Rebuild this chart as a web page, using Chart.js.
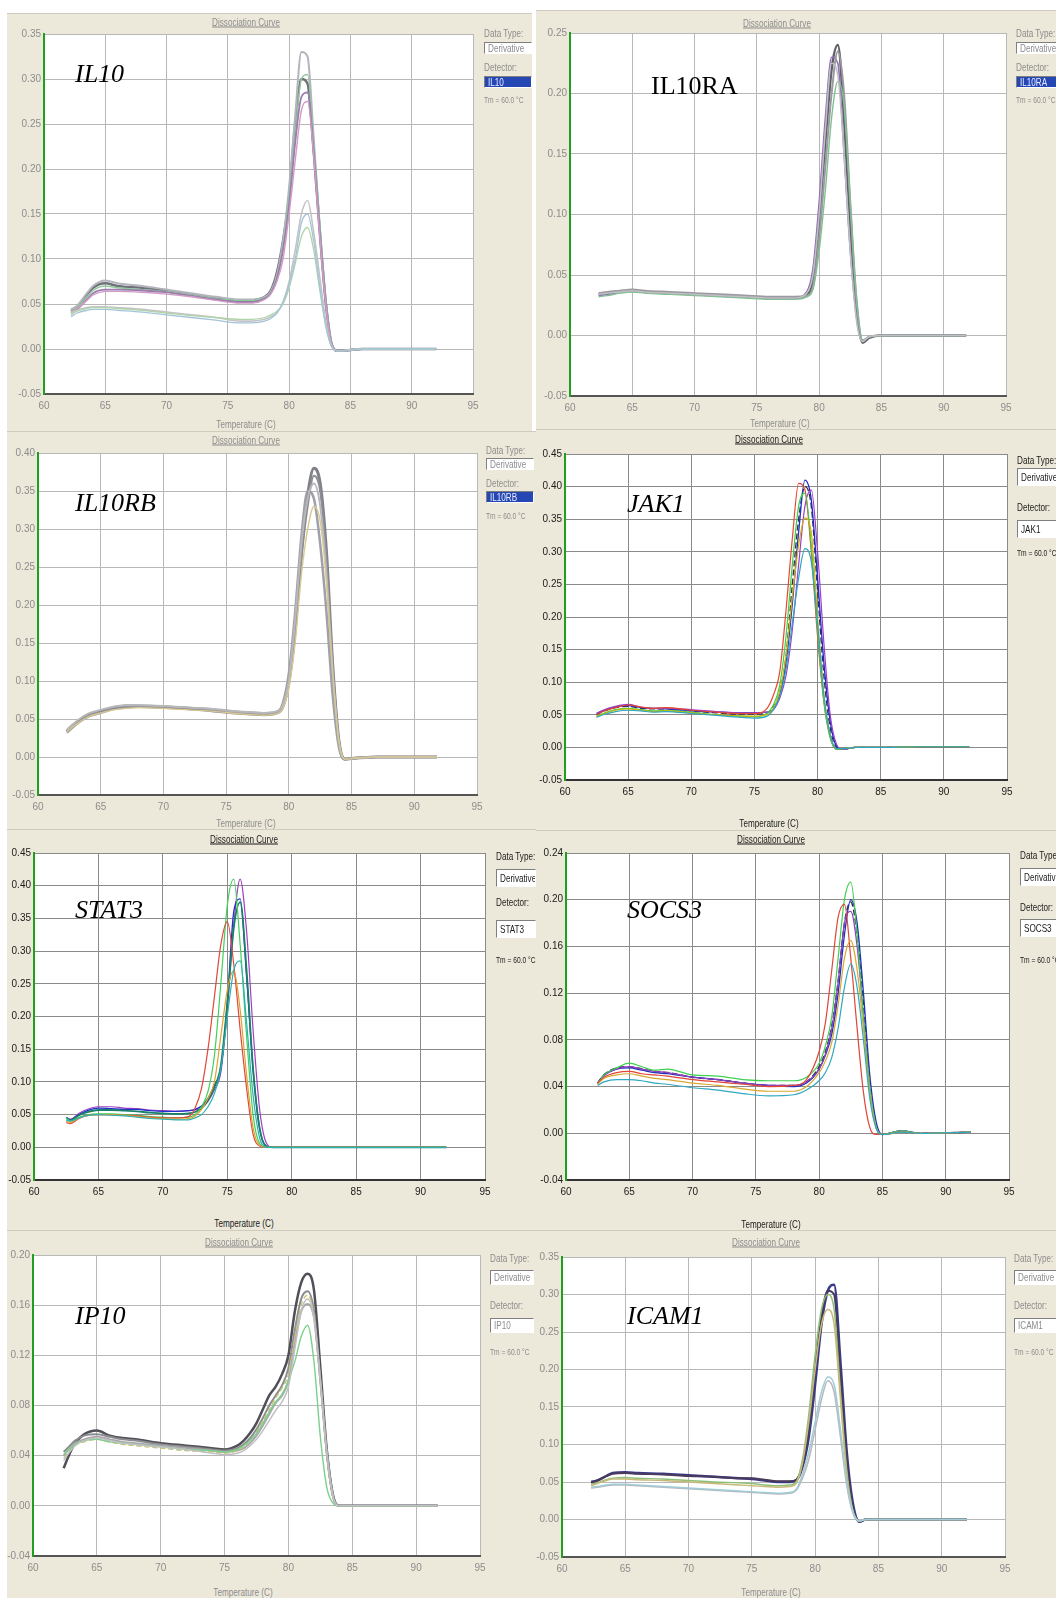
<!DOCTYPE html>
<html>
<head>
<meta charset="utf-8">
<title>Dissociation curves</title>
<script src="https://cdn.jsdelivr.net/npm/chart.js@4.4.1/dist/chart.umd.min.js"></script>
<style>
  html, body { margin: 0; padding: 0; background: #fff; }
  #page { position: relative; width: 1056px; height: 1598px; overflow: hidden; background: #fff;
          font-family: 'Liberation Sans', Arial, sans-serif; }
  .panel { position: absolute; background: #ece9da; border-top: 1px solid #cfccbd; box-sizing: border-box; }
  .t { position: absolute; white-space: nowrap; font-size: 11px; line-height: 13px; }
  .gene { position: absolute; white-space: nowrap; font-family: 'Liberation Serif', 'Times New Roman', serif;
          font-size: 26px; line-height: 26px; color: #000; }
  .box { position: absolute; box-sizing: border-box; background: #fff; border: 1px solid;
         border-color: #7f7f7f #fff #fff #7f7f7f; font-size: 11px; padding-left: 3px;
         overflow: hidden; white-space: nowrap; }
  .box span { display: inline-block; transform: scaleX(0.74); transform-origin: left center; }
  canvas { position: absolute; }
</style>
</head>
<body>
<div id="page"></div>
<script>
// temperature axis, shared by all panels
const tempTicks = [60, 65, 70, 75, 80, 85, 90, 95];

// ---------- IL10 ----------
const il10YTicks = [-0.05, 0, 0.05, 0.10, 0.15, 0.20, 0.25, 0.30, 0.35];
const il10Temp = [62.2, 62.7, 63.5, 64, 65, 66, 68, 70, 72, 74, 76, 77, 78, 78.5, 79, 79.5, 80, 80.5, 81, 81.5, 82, 82.5, 83, 83.5, 84, 86, 88, 92];
const il10Dark = [0.042, 0.046, 0.060, 0.068, 0.073, 0.070, 0.068, 0.065, 0.060, 0.056, 0.053, 0.054, 0.058, 0.065, 0.085, 0.120, 0.170, 0.250, 0.300, 0.295, 0.220, 0.130, 0.050, 0.004, -0.002, 0.000, 0.000, 0.000];
const il10Light = [0.044, 0.048, 0.062, 0.070, 0.076, 0.073, 0.070, 0.066, 0.062, 0.058, 0.055, 0.055, 0.058, 0.064, 0.082, 0.120, 0.180, 0.260, 0.330, 0.325, 0.235, 0.135, 0.052, 0.004, -0.002, 0.000, 0.000, 0.000];
const il10Green = [0.043, 0.046, 0.058, 0.065, 0.070, 0.068, 0.066, 0.064, 0.060, 0.056, 0.054, 0.054, 0.057, 0.063, 0.080, 0.115, 0.170, 0.240, 0.300, 0.305, 0.230, 0.140, 0.055, 0.005, -0.002, 0.000, 0.000, 0.000];
const il10Purple = [0.040, 0.044, 0.055, 0.062, 0.066, 0.066, 0.065, 0.063, 0.059, 0.055, 0.052, 0.052, 0.056, 0.062, 0.078, 0.110, 0.160, 0.230, 0.280, 0.285, 0.220, 0.130, 0.050, 0.004, -0.002, 0.000, 0.000, 0.000];
const il10Pink = [0.041, 0.045, 0.054, 0.060, 0.064, 0.064, 0.063, 0.061, 0.058, 0.054, 0.051, 0.051, 0.055, 0.061, 0.075, 0.100, 0.150, 0.210, 0.265, 0.275, 0.215, 0.125, 0.048, 0.004, -0.002, 0.000, 0.000, 0.000];
const il10LowA = [0.040, 0.043, 0.046, 0.047, 0.047, 0.046, 0.044, 0.041, 0.038, 0.035, 0.031, 0.031, 0.033, 0.036, 0.040, 0.052, 0.075, 0.110, 0.150, 0.165, 0.130, 0.080, 0.030, 0.002, -0.002, 0.000, 0.000, 0.000];
const il10LowB = [0.038, 0.042, 0.045, 0.046, 0.046, 0.045, 0.043, 0.040, 0.037, 0.035, 0.033, 0.033, 0.035, 0.038, 0.042, 0.050, 0.068, 0.095, 0.125, 0.135, 0.110, 0.065, 0.025, 0.002, -0.002, 0.000, 0.000, 0.000];
const il10LowC = [0.036, 0.040, 0.043, 0.044, 0.044, 0.043, 0.041, 0.038, 0.035, 0.032, 0.029, 0.029, 0.031, 0.034, 0.040, 0.052, 0.072, 0.100, 0.140, 0.150, 0.120, 0.070, 0.025, 0.002, -0.002, 0.000, 0.000, 0.000];

// ---------- IL10RA ----------
const il10raYTicks = [-0.05, 0, 0.05, 0.10, 0.15, 0.20, 0.25];
const il10raTemp = [62.3, 63, 64, 65, 66, 68, 70, 72, 74, 76, 78, 79, 79.5, 80, 80.5, 81, 81.5, 82, 82.5, 83, 83.5, 84, 85, 88, 91.8];
const il10raDark = [0.034, 0.035, 0.036, 0.037, 0.036, 0.035, 0.034, 0.033, 0.032, 0.031, 0.031, 0.034, 0.045, 0.095, 0.160, 0.220, 0.240, 0.180, 0.090, 0.020, -0.006, -0.002, 0.000, 0.000, 0.000];
const il10raPurple = [0.033, 0.034, 0.036, 0.037, 0.036, 0.035, 0.034, 0.033, 0.032, 0.031, 0.031, 0.036, 0.055, 0.110, 0.180, 0.230, 0.225, 0.150, 0.070, 0.015, -0.005, -0.001, 0.000, 0.000, 0.000];
const il10raGray = [0.035, 0.036, 0.037, 0.038, 0.037, 0.036, 0.035, 0.034, 0.033, 0.032, 0.032, 0.033, 0.040, 0.080, 0.140, 0.200, 0.235, 0.200, 0.110, 0.030, -0.004, -0.001, 0.000, 0.000, 0.000];
const il10raGreen = [0.032, 0.033, 0.035, 0.036, 0.035, 0.034, 0.033, 0.032, 0.031, 0.030, 0.030, 0.032, 0.038, 0.070, 0.120, 0.180, 0.210, 0.190, 0.110, 0.030, -0.004, -0.001, 0.000, 0.000, 0.000];
const il10raLight = [0.034, 0.035, 0.036, 0.037, 0.036, 0.035, 0.034, 0.033, 0.032, 0.031, 0.031, 0.035, 0.050, 0.100, 0.170, 0.225, 0.215, 0.150, 0.070, 0.012, -0.005, -0.001, 0.000, 0.000, 0.000];

// ---------- IL10RB ----------
const il10rbYTicks = [-0.05, 0, 0.05, 0.10, 0.15, 0.20, 0.25, 0.30, 0.35, 0.40];
const il10rbTemp = [62.3, 62.7, 63.3, 64, 65, 66, 67, 68, 70, 72, 74, 76, 78, 79, 79.5, 80, 80.5, 81, 81.5, 82, 82.5, 83, 83.5, 84, 84.5, 85, 87, 89, 91.8];
const il10rbDark = [0.034, 0.040, 0.048, 0.055, 0.060, 0.065, 0.067, 0.067, 0.066, 0.064, 0.062, 0.059, 0.057, 0.059, 0.066, 0.100, 0.170, 0.270, 0.345, 0.380, 0.360, 0.270, 0.120, 0.020, -0.003, -0.002, 0.000, 0.000, 0.000];
const il10rbGray = [0.032, 0.038, 0.046, 0.053, 0.058, 0.063, 0.065, 0.066, 0.065, 0.063, 0.061, 0.058, 0.056, 0.058, 0.070, 0.110, 0.190, 0.290, 0.350, 0.340, 0.280, 0.190, 0.080, 0.012, -0.003, -0.002, 0.000, 0.000, 0.000];
const il10rbGray2 = [0.033, 0.039, 0.047, 0.054, 0.059, 0.064, 0.066, 0.066, 0.065, 0.063, 0.060, 0.057, 0.055, 0.057, 0.064, 0.095, 0.160, 0.260, 0.330, 0.370, 0.350, 0.260, 0.120, 0.020, -0.003, -0.002, 0.000, 0.000, 0.000];
const il10rbYellow = [0.033, 0.039, 0.046, 0.053, 0.058, 0.062, 0.064, 0.065, 0.064, 0.062, 0.060, 0.057, 0.055, 0.057, 0.063, 0.090, 0.150, 0.240, 0.300, 0.330, 0.310, 0.230, 0.110, 0.020, -0.003, -0.002, 0.000, 0.000, 0.000];
const il10rbLight = [0.036, 0.042, 0.050, 0.057, 0.062, 0.066, 0.068, 0.068, 0.067, 0.065, 0.063, 0.060, 0.058, 0.060, 0.068, 0.100, 0.180, 0.280, 0.340, 0.360, 0.330, 0.240, 0.110, 0.018, -0.003, -0.002, 0.000, 0.000, 0.000];

// ---------- JAK1 ----------
const jak1YTicks = [-0.05, 0, 0.05, 0.10, 0.15, 0.20, 0.25, 0.30, 0.35, 0.40, 0.45];
const jak1Temp = [62.5, 63, 64, 65, 66, 67, 68, 70, 72, 74, 75, 76, 76.5, 77, 77.5, 78, 78.5, 79, 79.5, 80, 80.5, 81, 81.5, 82, 83, 85, 88, 92];
const jak1Red = [0.050, 0.055, 0.061, 0.065, 0.062, 0.060, 0.061, 0.057, 0.054, 0.052, 0.052, 0.060, 0.080, 0.115, 0.210, 0.320, 0.405, 0.395, 0.300, 0.170, 0.070, 0.015, -0.003, -0.002, 0.000, 0.000, 0.001, 0.001];
const jak1Green = [0.048, 0.052, 0.058, 0.060, 0.058, 0.056, 0.057, 0.054, 0.050, 0.048, 0.047, 0.052, 0.065, 0.095, 0.170, 0.280, 0.370, 0.390, 0.310, 0.180, 0.070, 0.015, -0.003, -0.002, 0.000, 0.000, 0.001, 0.001];
const jak1Yellow = [0.047, 0.051, 0.057, 0.059, 0.057, 0.055, 0.056, 0.053, 0.050, 0.048, 0.048, 0.050, 0.060, 0.085, 0.140, 0.230, 0.310, 0.352, 0.330, 0.200, 0.080, 0.020, -0.002, -0.002, 0.000, 0.000, 0.001, 0.001];
const jak1Teal = [0.046, 0.050, 0.055, 0.057, 0.056, 0.054, 0.055, 0.052, 0.049, 0.046, 0.045, 0.048, 0.058, 0.078, 0.120, 0.190, 0.260, 0.305, 0.285, 0.190, 0.080, 0.020, -0.002, -0.002, 0.000, 0.000, 0.001, 0.001];
const jak1Blue = [0.052, 0.056, 0.062, 0.064, 0.061, 0.060, 0.059, 0.056, 0.054, 0.053, 0.053, 0.054, 0.058, 0.080, 0.130, 0.220, 0.330, 0.410, 0.380, 0.260, 0.130, 0.040, 0.002, -0.003, 0.000, 0.000, 0.001, 0.001];
const jak1Purple = [0.052, 0.057, 0.063, 0.066, 0.062, 0.060, 0.060, 0.058, 0.055, 0.053, 0.053, 0.054, 0.058, 0.075, 0.110, 0.180, 0.280, 0.370, 0.395, 0.300, 0.160, 0.050, 0.005, -0.003, 0.000, 0.000, 0.001, 0.001];
const jak1Dark = [0.050, 0.055, 0.061, 0.063, 0.060, 0.059, 0.059, 0.056, 0.053, 0.051, 0.051, 0.053, 0.062, 0.085, 0.140, 0.250, 0.350, 0.400, 0.370, 0.240, 0.110, 0.030, 0.000, -0.003, 0.000, 0.000, 0.001, 0.001];

// ---------- STAT3 ----------
const stat3YTicks = [-0.05, 0, 0.05, 0.10, 0.15, 0.20, 0.25, 0.30, 0.35, 0.40, 0.45];
const stat3Temp = [62.5, 62.8, 63.5, 64, 65, 66, 67, 68, 69, 70, 71, 72, 72.5, 73, 73.5, 74, 74.5, 75, 75.5, 76, 76.5, 77, 77.5, 78, 78.5, 80, 85, 92];
const stat3Red = [0.038, 0.036, 0.044, 0.048, 0.050, 0.050, 0.049, 0.048, 0.046, 0.045, 0.045, 0.047, 0.060, 0.090, 0.150, 0.230, 0.310, 0.345, 0.280, 0.180, 0.090, 0.020, 0.002, 0.000, 0.000, 0.000, 0.000, 0.000];
const stat3Green = [0.045, 0.040, 0.046, 0.049, 0.051, 0.051, 0.050, 0.049, 0.047, 0.046, 0.045, 0.046, 0.050, 0.062, 0.085, 0.140, 0.250, 0.370, 0.410, 0.310, 0.170, 0.050, 0.006, 0.000, 0.000, 0.000, 0.000, 0.000];
const stat3Orange = [0.040, 0.038, 0.045, 0.048, 0.050, 0.050, 0.049, 0.047, 0.045, 0.044, 0.043, 0.044, 0.048, 0.058, 0.075, 0.100, 0.170, 0.240, 0.270, 0.210, 0.110, 0.030, 0.003, 0.000, 0.000, 0.000, 0.000, 0.000];
const stat3Teal = [0.042, 0.040, 0.045, 0.048, 0.050, 0.049, 0.048, 0.046, 0.044, 0.043, 0.042, 0.042, 0.045, 0.050, 0.062, 0.082, 0.120, 0.200, 0.270, 0.285, 0.190, 0.080, 0.015, 0.000, 0.000, 0.000, 0.000, 0.000];
const stat3Blue = [0.045, 0.042, 0.050, 0.055, 0.060, 0.059, 0.058, 0.058, 0.056, 0.055, 0.055, 0.056, 0.058, 0.063, 0.075, 0.095, 0.120, 0.220, 0.360, 0.380, 0.260, 0.120, 0.030, 0.002, 0.000, 0.000, 0.000, 0.000];
const stat3Purple = [0.046, 0.043, 0.052, 0.057, 0.062, 0.062, 0.060, 0.059, 0.057, 0.056, 0.055, 0.056, 0.057, 0.060, 0.070, 0.088, 0.115, 0.210, 0.340, 0.410, 0.330, 0.180, 0.060, 0.008, 0.000, 0.000, 0.000, 0.000];
const stat3Dark = [0.045, 0.041, 0.049, 0.053, 0.057, 0.057, 0.056, 0.055, 0.053, 0.052, 0.051, 0.052, 0.054, 0.060, 0.072, 0.092, 0.125, 0.220, 0.335, 0.375, 0.270, 0.120, 0.030, 0.002, 0.000, 0.000, 0.000, 0.000];

// ---------- SOCS3 ----------
const socs3YTicks = [-0.04, 0, 0.04, 0.08, 0.12, 0.16, 0.20, 0.24];
const socs3Temp = [62.5, 63, 64, 65, 66, 67, 68, 70, 72, 74, 76, 78, 79, 80, 80.5, 81, 81.5, 82, 82.5, 83, 83.5, 84, 84.5, 85, 86.5, 88, 92];
const socs3Red = [0.043, 0.048, 0.052, 0.053, 0.051, 0.050, 0.049, 0.046, 0.044, 0.042, 0.040, 0.041, 0.046, 0.070, 0.095, 0.140, 0.185, 0.196, 0.150, 0.090, 0.035, 0.005, -0.001, -0.001, 0.001, 0.000, 0.001];
const socs3Green = [0.042, 0.050, 0.056, 0.060, 0.057, 0.054, 0.055, 0.050, 0.049, 0.046, 0.045, 0.045, 0.048, 0.060, 0.075, 0.100, 0.150, 0.200, 0.215, 0.170, 0.100, 0.040, 0.006, -0.001, 0.002, 0.000, 0.001];
const socs3Blue = [0.043, 0.050, 0.055, 0.056, 0.054, 0.052, 0.051, 0.048, 0.046, 0.043, 0.041, 0.040, 0.043, 0.055, 0.067, 0.085, 0.120, 0.170, 0.200, 0.180, 0.120, 0.050, 0.010, -0.001, 0.002, 0.000, 0.001];
const socs3Purple = [0.042, 0.049, 0.055, 0.057, 0.055, 0.053, 0.052, 0.048, 0.046, 0.043, 0.041, 0.041, 0.044, 0.055, 0.068, 0.090, 0.130, 0.180, 0.190, 0.160, 0.100, 0.040, 0.005, -0.001, 0.002, 0.000, 0.001];
const socs3Orange = [0.042, 0.047, 0.050, 0.051, 0.049, 0.047, 0.046, 0.043, 0.041, 0.038, 0.036, 0.036, 0.040, 0.052, 0.062, 0.078, 0.110, 0.150, 0.165, 0.140, 0.090, 0.035, 0.005, -0.001, 0.001, 0.000, 0.001];
const socs3Teal = [0.041, 0.044, 0.046, 0.046, 0.045, 0.043, 0.042, 0.039, 0.037, 0.034, 0.032, 0.033, 0.037, 0.045, 0.052, 0.065, 0.090, 0.125, 0.145, 0.125, 0.080, 0.030, 0.004, -0.001, 0.001, 0.000, 0.001];
const socs3Dark = [0.043, 0.050, 0.056, 0.057, 0.055, 0.053, 0.052, 0.048, 0.046, 0.043, 0.041, 0.041, 0.044, 0.057, 0.070, 0.092, 0.130, 0.180, 0.198, 0.170, 0.110, 0.045, 0.007, -0.001, 0.002, 0.000, 0.001];

// ---------- IP10 ----------
const ip10YTicks = [-0.04, 0, 0.04, 0.08, 0.12, 0.16, 0.20];
const ip10Temp = [62.4, 62.8, 63.3, 64, 65, 66, 67, 68, 70, 72, 74, 75, 76, 76.5, 77, 77.5, 78, 78.5, 79, 79.5, 80, 80.5, 81, 81.5, 82, 82.5, 83, 83.5, 84, 86, 88, 91.7];
const ip10Dark = [0.030, 0.040, 0.050, 0.057, 0.060, 0.056, 0.054, 0.053, 0.050, 0.048, 0.046, 0.045, 0.048, 0.052, 0.058, 0.066, 0.077, 0.088, 0.095, 0.105, 0.120, 0.155, 0.178, 0.185, 0.172, 0.110, 0.045, 0.008, 0.000, 0.000, 0.000, 0.000];
const ip10Gray = [0.043, 0.047, 0.052, 0.056, 0.057, 0.055, 0.053, 0.052, 0.049, 0.047, 0.045, 0.044, 0.046, 0.049, 0.054, 0.061, 0.070, 0.080, 0.088, 0.096, 0.110, 0.140, 0.165, 0.171, 0.155, 0.100, 0.045, 0.008, 0.000, 0.000, 0.000, 0.000];
const ip10Gray2 = [0.040, 0.045, 0.050, 0.053, 0.055, 0.053, 0.051, 0.050, 0.048, 0.046, 0.044, 0.043, 0.044, 0.046, 0.050, 0.056, 0.064, 0.073, 0.082, 0.088, 0.100, 0.130, 0.155, 0.161, 0.150, 0.100, 0.042, 0.007, 0.000, 0.000, 0.000, 0.000];
const ip10Light = [0.036, 0.042, 0.048, 0.052, 0.054, 0.052, 0.050, 0.049, 0.047, 0.045, 0.042, 0.041, 0.042, 0.044, 0.048, 0.053, 0.060, 0.068, 0.076, 0.083, 0.095, 0.125, 0.155, 0.165, 0.150, 0.100, 0.042, 0.007, 0.000, 0.000, 0.000, 0.000];
const ip10Green = [0.041, 0.045, 0.049, 0.052, 0.053, 0.051, 0.050, 0.049, 0.047, 0.045, 0.044, 0.043, 0.045, 0.048, 0.052, 0.058, 0.066, 0.075, 0.083, 0.089, 0.100, 0.115, 0.135, 0.144, 0.115, 0.055, 0.015, 0.002, 0.000, 0.000, 0.000, 0.000];
const ip10Olive = [0.038, 0.043, 0.048, 0.051, 0.053, 0.051, 0.049, 0.048, 0.046, 0.044, 0.043, 0.042, 0.044, 0.047, 0.052, 0.059, 0.068, 0.077, 0.086, 0.094, 0.105, 0.135, 0.160, 0.168, 0.152, 0.100, 0.043, 0.007, 0.000, 0.000, 0.000, 0.000];

// ---------- ICAM1 ----------
const icam1YTicks = [-0.05, 0, 0.05, 0.10, 0.15, 0.20, 0.25, 0.30, 0.35];
const icam1Temp = [62.3, 62.8, 63.5, 64, 65, 66, 68, 70, 72, 74, 75, 76, 77, 78, 78.5, 79, 79.5, 80, 80.5, 81, 81.5, 82, 82.5, 83, 83.5, 84, 86, 88, 92];
const icam1Blue = [0.050, 0.052, 0.058, 0.062, 0.063, 0.062, 0.061, 0.059, 0.057, 0.055, 0.054, 0.052, 0.050, 0.050, 0.052, 0.070, 0.110, 0.180, 0.260, 0.305, 0.313, 0.210, 0.090, 0.020, -0.003, 0.000, 0.000, 0.000, 0.000];
const icam1Dark = [0.049, 0.052, 0.058, 0.061, 0.062, 0.061, 0.060, 0.058, 0.057, 0.055, 0.055, 0.053, 0.051, 0.051, 0.053, 0.072, 0.120, 0.200, 0.270, 0.305, 0.300, 0.190, 0.080, 0.015, -0.003, 0.000, 0.000, 0.000, 0.000];
const icam1Green = [0.047, 0.049, 0.053, 0.055, 0.056, 0.055, 0.054, 0.052, 0.050, 0.049, 0.048, 0.046, 0.045, 0.046, 0.050, 0.080, 0.140, 0.220, 0.280, 0.300, 0.280, 0.170, 0.065, 0.010, -0.002, 0.000, 0.000, 0.000, 0.000];
const icam1Olive = [0.045, 0.048, 0.052, 0.054, 0.054, 0.053, 0.052, 0.050, 0.048, 0.046, 0.045, 0.044, 0.043, 0.044, 0.048, 0.075, 0.130, 0.200, 0.260, 0.280, 0.260, 0.160, 0.060, 0.010, -0.002, 0.000, 0.000, 0.000, 0.000];
const icam1Gray = [0.042, 0.043, 0.045, 0.046, 0.046, 0.045, 0.043, 0.041, 0.039, 0.037, 0.036, 0.035, 0.034, 0.035, 0.039, 0.055, 0.080, 0.120, 0.160, 0.185, 0.170, 0.110, 0.045, 0.008, -0.002, 0.000, 0.000, 0.000, 0.000];
const icam1Cyan = [0.043, 0.044, 0.046, 0.047, 0.047, 0.046, 0.044, 0.042, 0.040, 0.038, 0.037, 0.036, 0.035, 0.036, 0.040, 0.060, 0.090, 0.130, 0.170, 0.190, 0.180, 0.120, 0.050, 0.010, -0.002, 0.000, 0.000, 0.000, 0.000];

const FONT = "'Liberation Sans', Arial, sans-serif";
const NARROW = 0.74;   // the instrument software uses a condensed face

// layout of each screenshot panel (page pixels); series = [values, colour, width, dash]
const panels = [
  { gene: 'IL10', italic: true, geneAt: [75, 61], box: [7, 13, 532, 431], plot: [44, 34, 473, 394],
    temps: il10Temp, yTicks: il10YTicks, faded: true,
    series: [[il10LowC, '#a4c4d8', 1.3], [il10LowB, '#b0d4a8', 1.3], [il10LowA, '#c4c4c8', 1.6],
             [il10Pink, '#d09cc4', 1.4], [il10Purple, '#9c7cb0', 1.8], [il10Green, '#8fc89a', 1.4],
             [il10Light, '#b4b4be', 2], [il10Dark, '#707078', 2.5]],
    title: [246, 22], axis: [246, 424],
    ctrl: { x: 484, right: 532, dt: 33, b1: 48, det: 67, b2: 81.5, tm: 100, bh: 12, sel: true } },
  { gene: 'IL10RA', italic: false, geneAt: [651, 73], box: [536, 10, 1056, 429], plot: [570, 33, 1006, 396],
    temps: il10raTemp, yTicks: il10raYTicks, faded: true,
    series: [[il10raLight, '#c0c0c4', 1.5], [il10raGreen, '#80c090', 1.4], [il10raGray, '#9a9aa0', 2],
             [il10raPurple, '#9070b8', 1.6], [il10raDark, '#606068', 2.5]],
    title: [777, 23], axis: [780, 423],
    ctrl: { x: 1016, right: 1060, dt: 33, b1: 48, det: 67, b2: 81.5, tm: 100, bh: 12, sel: true } },
  { gene: 'IL10RB', italic: true, geneAt: [75, 490], box: [7, 431, 536, 829], plot: [38, 453, 477, 795],
    temps: il10rbTemp, yTicks: il10rbYTicks, faded: true,
    series: [[il10rbYellow, '#d8c890', 1.4], [il10rbLight, '#b8b8bc', 2], [il10rbGray2, '#8c8c94', 2],
             [il10rbGray, '#a0a0a8', 2.5], [il10rbDark, '#808088', 3]],
    title: [246, 440], axis: [246, 823],
    ctrl: { x: 486, right: 534, dt: 450, b1: 464, det: 483, b2: 497, tm: 516, bh: 12, sel: true } },
  { gene: 'JAK1', italic: true, geneAt: [627, 491], box: [536, 429, 1056, 830], plot: [565, 454, 1007, 780],
    temps: jak1Temp, yTicks: jak1YTicks, faded: false,
    series: [[jak1Teal, '#2aa6c4', 1.2], [jak1Yellow, '#d6b400', 1.2], [jak1Green, '#3ccf4a', 1.2],
             [jak1Red, '#e8472f', 1.2], [jak1Purple, '#9b3fc8', 1.2], [jak1Blue, '#2029c8', 1.3],
             [jak1Dark, '#303040', 1.3, [6, 3]]],
    title: [769, 439], axis: [769, 823],
    ctrl: { x: 1017, right: 1060, dt: 460, b1: 477, det: 507, b2: 528.5, tm: 553, bh: 18, sel: false } },
  { gene: 'STAT3', italic: true, geneAt: [75, 897], box: [7, 829, 536, 1230], plot: [34, 853, 485, 1180],
    temps: stat3Temp, yTicks: stat3YTicks, faded: false,
    series: [[stat3Teal, '#2bb0b0', 1.2], [stat3Orange, '#e0a030', 1.2], [stat3Red, '#e0483a', 1.2],
             [stat3Green, '#3fd05a', 1.2], [stat3Dark, '#18806a', 1.8], [stat3Blue, '#2030c8', 1.3],
             [stat3Purple, '#a040c0', 1.2]],
    title: [244, 839], axis: [244, 1223],
    ctrl: { x: 496, right: 536, dt: 856, b1: 877.5, det: 902, b2: 928.5, tm: 960, bh: 18, sel: false } },
  { gene: 'SOCS3', italic: true, geneAt: [627, 897], box: [536, 830, 1056, 1230], plot: [566, 853, 1009, 1180],
    temps: socs3Temp, yTicks: socs3YTicks, faded: false,
    series: [[socs3Teal, '#30a8c0', 1.2], [socs3Orange, '#d8a830', 1.2], [socs3Red, '#e04535', 1.2],
             [socs3Green, '#40d050', 1.2], [socs3Purple, '#9040c0', 1.2], [socs3Blue, '#2030c0', 1.3],
             [socs3Dark, '#303040', 1.5, [6, 3]]],
    title: [771, 839], axis: [771, 1224],
    ctrl: { x: 1020, right: 1060, dt: 855, b1: 877, det: 907, b2: 928, tm: 960, bh: 18, sel: false } },
  { gene: 'IP10', italic: true, geneAt: [75, 1303], box: [7, 1230, 536, 1598], plot: [33, 1255, 480, 1556],
    temps: ip10Temp, yTicks: ip10YTicks, faded: true,
    series: [[ip10Light, '#c0c0c4', 1.5], [ip10Green, '#7cd08c', 1.4], [ip10Olive, '#c8c070', 1.3, [5, 3]],
             [ip10Gray2, '#a8a8ac', 2], [ip10Gray, '#8c8c90', 2], [ip10Dark, '#505058', 2.5]],
    title: [239, 1242], axis: [243, 1592],
    ctrl: { x: 490, right: 534, dt: 1258, b1: 1277.5, det: 1305, b2: 1325.5, tm: 1352, bh: 15, sel: false } },
  { gene: 'ICAM1', italic: true, geneAt: [627, 1303], box: [536, 1230, 1056, 1598], plot: [562, 1257, 1005, 1557],
    temps: icam1Temp, yTicks: icam1YTicks, faded: true,
    series: [[icam1Cyan, '#a0ccd8', 1.5], [icam1Gray, '#b8b8bc', 1.5], [icam1Olive, '#c8b878', 1.5],
             [icam1Green, '#8cc078', 1.5], [icam1Dark, '#4a3a5a', 2], [icam1Blue, '#3a3a8c', 2.5]],
    title: [766, 1242], axis: [771, 1592],
    ctrl: { x: 1014, right: 1060, dt: 1258, b1: 1277.5, det: 1305, b2: 1325.5, tm: 1352, bh: 15, sel: false } }
];

const page = document.getElementById('page');

function put(cls, text, x, y, css) {
  const d = document.createElement('div');
  d.className = cls;
  d.textContent = text;
  d.style.left = x + 'px';
  d.style.top = y + 'px';
  if (css) Object.assign(d.style, css);
  page.appendChild(d);
  return d;
}
// centred narrow label
function putC(text, x, y, css) {
  return put('t', text, x, y, Object.assign({ transform: 'translate(-50%,-50%) scaleX(' + NARROW + ')' }, css));
}
// left-anchored narrow label
function putL(text, x, y, css) {
  return put('t', text, x, y, Object.assign({ transformOrigin: 'left center',
    transform: 'translateY(-50%) scaleX(' + NARROW + ')' }, css));
}
function putBox(text, x, top, w, h, css) {
  const d = put('box', '', x, top, Object.assign({ width: w + 'px', height: h + 'px', lineHeight: (h - 2) + 'px' }, css));
  const s = document.createElement('span');
  s.textContent = text;
  d.appendChild(s);
  return d;
}

// white plotting area behind the curves
const plotBg = {
  id: 'plotBg',
  beforeDraw(chart) {
    const a = chart.chartArea, ctx = chart.ctx;
    ctx.save();
    ctx.fillStyle = '#ffffff';
    ctx.fillRect(a.left, a.top, a.right - a.left, a.bottom - a.top);
    ctx.restore();
  }
};

function drawPanel(p) {
  const [bl, bt, br, bb] = p.box;
  const bg = document.createElement('div');
  bg.className = 'panel';
  Object.assign(bg.style, { left: bl + 'px', top: bt + 'px', width: (br - bl) + 'px', height: (bb - bt) + 'px' });
  page.appendChild(bg);

  const txt = p.faded ? '#8c8c8c' : '#1a1a1a';
  const grid = p.faded ? '#b8b8b8' : '#8a8a8a';

  // canvas sized so the chart area lands exactly on the plot rect
  const [l, t, r, b] = p.plot;
  const cv = document.createElement('canvas');
  const w = r - l + 56, h = b - t + 36;
  cv.width = w; cv.height = h;
  Object.assign(cv.style, { left: (l - 44) + 'px', top: (t - 10) + 'px', width: w + 'px', height: h + 'px' });
  page.appendChild(cv);

  const datasets = p.series.map(([vals, color, width, dash]) => ({
    data: p.temps.map((x, i) => ({ x: x, y: vals[i] })),
    borderColor: color,
    borderWidth: width,
    borderDash: dash || [],
    pointRadius: 0,
    fill: false,
    cubicInterpolationMode: 'monotone'
  }));

  const yt = p.yTicks;
  new Chart(cv, {
    type: 'line',
    data: { datasets: datasets },
    plugins: [plotBg],
    options: {
      responsive: false,
      animation: false,
      devicePixelRatio: 1,
      layout: { padding: { left: 4, top: 10, right: 12, bottom: 2 } },
      plugins: { legend: { display: false }, tooltip: { enabled: false } },
      scales: {
        x: {
          type: 'linear', min: 60, max: 95,
          afterBuildTicks: s => { s.ticks = tempTicks.map(v => ({ value: v })); },
          afterFit: s => { s.height = 24; },
          grid: { color: grid, lineWidth: 1, drawTicks: false },
          border: { color: p.faded ? '#555' : '#333', width: 2 },
          ticks: { padding: 6, color: txt, maxRotation: 0, autoSkip: false,
                   font: { family: FONT, size: 10 }, callback: v => String(v) }
        },
        y: {
          min: yt[0], max: yt[yt.length - 1],
          afterBuildTicks: s => { s.ticks = yt.map(v => ({ value: v })); },
          afterFit: s => { s.width = 40; },
          grid: { color: grid, lineWidth: 1, drawTicks: false },
          border: { color: '#1ea01e', width: 2 },
          ticks: { padding: 3, color: txt, autoSkip: false,
                   font: { family: FONT, size: 10 }, callback: v => Number(v).toFixed(2) }
        }
      }
    }
  });

  // window texts
  putC('Dissociation Curve', p.title[0], p.title[1], { textDecoration: 'underline', color: txt });
  putC('Temperature (C)', p.axis[0], p.axis[1], { color: txt });

  const c = p.ctrl;
  putL('Data Type:', c.x, c.dt, { color: txt });
  putBox('Derivative', c.x, c.b1 - c.bh / 2, c.right - c.x, c.bh, { color: txt });
  putL('Detector:', c.x, c.det, { color: txt });
  const sel = c.sel ? { background: '#2447b4', color: '#e8ecff' } : { color: txt };
  putBox(p.gene, c.x, c.b2 - c.bh / 2, c.right - c.x, c.bh, sel);
  putL('Tm = 60.0 \u00b0C', c.x, c.tm, { color: txt, fontSize: '9px' });

  // gene name written on the picture
  put('gene', p.gene, p.geneAt[0], p.geneAt[1], { fontStyle: p.italic ? 'italic' : 'normal' });
}

panels.forEach(drawPanel);
</script>
</body>
</html>
